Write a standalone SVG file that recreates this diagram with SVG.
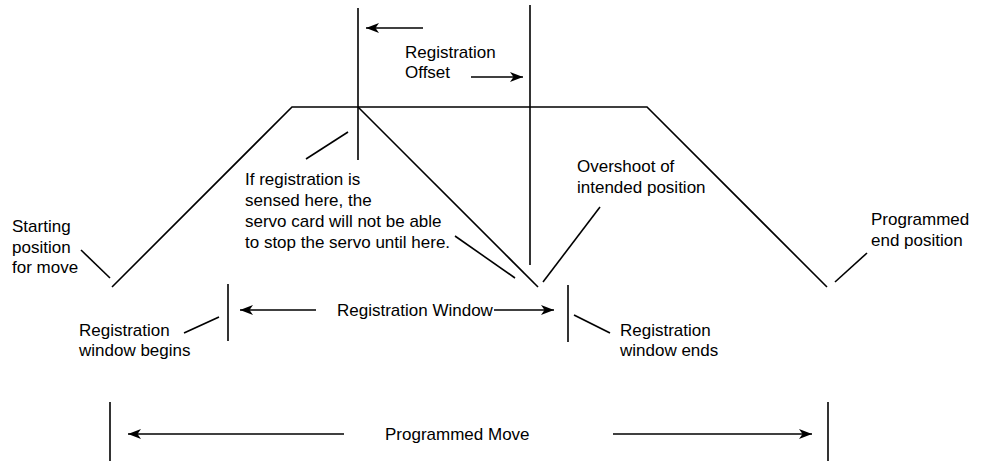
<svg xmlns="http://www.w3.org/2000/svg" width="982" height="461" viewBox="0 0 982 461">
<style>
.ln{stroke:#000;stroke-width:1.6;fill:none;stroke-linecap:butt}
.ar{stroke:#000;stroke-width:1.6;fill:none;marker-end:url(#ah)}
.t{font-family:"Liberation Sans",Arial,sans-serif;font-size:17px;fill:#000}
</style>
<defs>
<marker id="ah" viewBox="0 0 13 10" refX="13" refY="5" markerWidth="13" markerHeight="10" markerUnits="userSpaceOnUse" orient="auto">
<path d="M0,0 L13,5 L0,10 L3.5,5 z" fill="#000"/>
</marker>
</defs>
<rect width="982" height="461" fill="#fff"/>
<g id="profile">
<polyline class="ln" points="112,287 292,107 647,107 827,287"/>
<line class="ln" x1="358" y1="107" x2="538" y2="287"/>
</g>
<g id="offset">
<line class="ln" x1="358" y1="8" x2="358" y2="160"/>
<line class="ln" x1="530" y1="5" x2="530" y2="265"/>
<text class="t" x="405" y="58">Registration</text>
<text class="t" x="405" y="78">Offset</text>
</g>
<g id="sensed-note">
<text class="t" x="245" y="185">If registration is</text>
<text class="t" x="245" y="206">sensed here, the</text>
<text class="t" x="245" y="227">servo card will not be able</text>
<text class="t" x="245" y="248">to stop the servo until here.</text>
</g>
<g id="overshoot-note">
<text class="t" x="577" y="172">Overshoot of</text>
<text class="t" x="577" y="193">intended position</text>
</g>
<g id="start-note">
<text class="t" x="12" y="232">Starting</text>
<text class="t" x="12" y="253">position</text>
<text class="t" x="12" y="273">for move</text>
</g>
<g id="end-note">
<text class="t" x="871" y="225">Programmed</text>
<text class="t" x="871" y="246">end position</text>
</g>
<g id="window-begins">
<line class="ln" x1="228" y1="284" x2="228" y2="341"/>
<text class="t" x="79" y="336">Registration</text>
<text class="t" x="79" y="356">window begins</text>
</g>
<g id="window-ends">
<line class="ln" x1="568" y1="285" x2="568" y2="342"/>
<text class="t" x="620" y="336">Registration</text>
<text class="t" x="620" y="356">window ends</text>
</g>
<g id="window-label">
<text class="t" x="337" y="316">Registration Window</text>
</g>
<g id="programmed-move">
<line class="ln" x1="110" y1="402" x2="110" y2="461"/>
<line class="ln" x1="828" y1="402" x2="828" y2="461"/>
<text class="t" x="385" y="440">Programmed Move</text>
</g>
<g id="connectors">
<line class="ar" x1="423" y1="28" x2="366" y2="28"/>
<line class="ar" x1="471" y1="77" x2="523" y2="77"/>
<line class="ln" x1="306" y1="159" x2="348" y2="132"/>
<line class="ln" x1="455" y1="236" x2="515" y2="278"/>
<line class="ln" x1="543" y1="282" x2="600" y2="207"/>
<line class="ln" x1="81" y1="250" x2="110" y2="278"/>
<line class="ln" x1="835" y1="282" x2="867" y2="253"/>
<line class="ln" x1="184" y1="333" x2="219" y2="317"/>
<line class="ln" x1="574" y1="315" x2="610" y2="333"/>
<line class="ar" x1="316" y1="310" x2="240" y2="310"/>
<line class="ar" x1="494" y1="310" x2="554" y2="310"/>
<line class="ar" x1="344" y1="434" x2="128" y2="434"/>
<line class="ar" x1="613" y1="434" x2="812" y2="434"/>
</g>
</svg>
